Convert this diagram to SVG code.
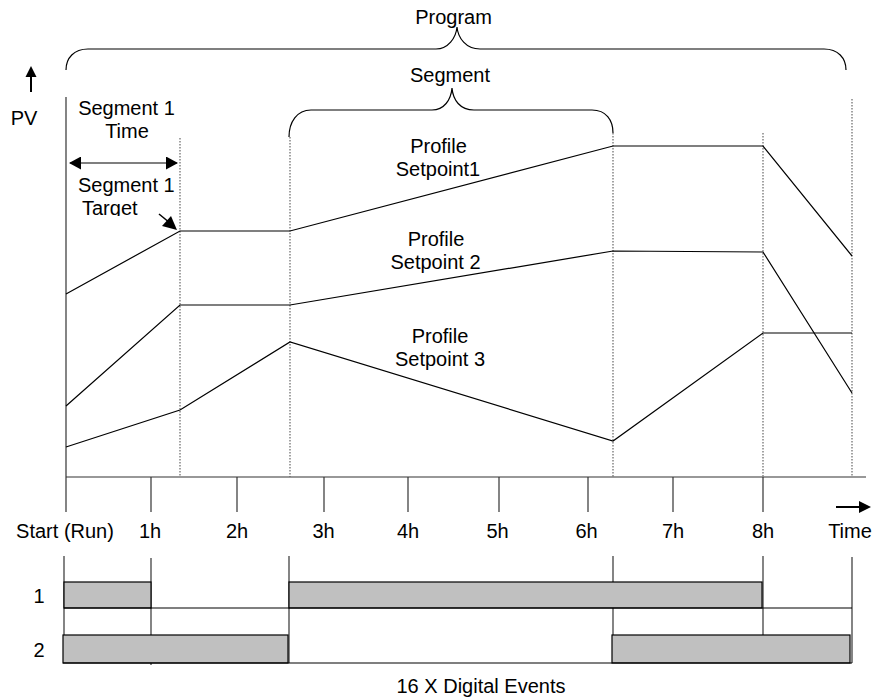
<svg xmlns="http://www.w3.org/2000/svg" width="887" height="698" viewBox="0 0 887 698">
<style>
text{font-family:"Liberation Sans",Arial,sans-serif;font-size:20px;fill:#000}
.c{text-anchor:middle}
.ln{stroke:#000;stroke-width:1.2;fill:none}
.ax{stroke:#333;stroke-width:1.2;fill:none}
.dot{stroke:#666;stroke-width:1.2;stroke-dasharray:1.5,1.5;fill:none}
.ev{fill:#c0c0c0;stroke:#000;stroke-width:1.2}
</style>
<defs>
<marker id="ah" viewBox="0 0 12 13" refX="11" refY="6.5" markerWidth="12" markerHeight="13" markerUnits="userSpaceOnUse" orient="auto-start-reverse"><path d="M0,0 L12,6.5 L0,13 z" fill="#000"/></marker>
<clipPath id="clipT"><rect x="0" y="0" width="887" height="216"/></clipPath>
</defs>
<g id="axes">
<line class="ax" x1="66" y1="97" x2="66" y2="512"/>
<line class="ax" x1="66" y1="477" x2="866" y2="477"/>
<g class="ax">
<line x1="151" y1="477" x2="151" y2="512"/>
<line x1="237" y1="477" x2="237" y2="512"/>
<line x1="324" y1="477" x2="324" y2="512"/>
<line x1="408" y1="477" x2="408" y2="512"/>
<line x1="499" y1="477" x2="499" y2="512"/>
<line x1="588" y1="477" x2="588" y2="512"/>
<line x1="673" y1="477" x2="673" y2="512"/>
<line x1="763" y1="477" x2="763" y2="512"/>
</g>
<line x1="31" y1="92" x2="31" y2="74" stroke="#000" stroke-width="2"/>
<polygon points="31,66 25.5,77 36.5,77" fill="#000"/>
<text x="24" y="125" class="c">PV</text>
<line x1="836" y1="507" x2="860" y2="507" stroke="#000" stroke-width="2"/>
<polygon points="871,507 859,501 859,513" fill="#000"/>
</g>
<g id="dividers">
<line class="dot" x1="180" y1="138" x2="180" y2="477"/>
<line class="dot" x1="290" y1="137" x2="290" y2="477"/>
<line class="dot" x1="613" y1="133" x2="613" y2="477"/>
<line class="dot" x1="763" y1="133" x2="763" y2="477"/>
<line class="dot" x1="852" y1="99" x2="852" y2="477"/>
</g>
<g id="program">
<path class="ln" d="M66,70 C66,58 74,49 88,49 L436,49 C448,49 456,38 457,27 C458,38 466,49 480,49 L824,49 C838,49 846,58 846,70"/>
<text x="453.5" y="24" class="c">Program</text>
</g>
<g id="segment">
<path class="ln" d="M289,137 C289,122 297,110 311,110 L432,110 C444,110 451,100 452,88 C453,100 460,110 474,110 L592,110 C606,110 613,120 613,133"/>
<text x="450" y="82" class="c">Segment</text>
</g>
<g id="seg1time">
<text x="126.5" y="115" class="c">Segment 1</text>
<text x="127" y="138" class="c">Time</text>
<line class="ln" x1="70" y1="163" x2="177" y2="163" stroke-width="2" marker-start="url(#ah)" marker-end="url(#ah)"/>
</g>
<g id="seg1target">
<text x="78" y="192">Segment 1</text>
<text x="82" y="215" clip-path="url(#clipT)">Target</text>
<line x1="159" y1="214" x2="170" y2="223" stroke="#000" stroke-width="1.5"/>
<polygon points="177,230 162,226 171,216" fill="#000"/>
</g>
<g id="sp1">
<polyline class="ln" points="66,294 180,231 290,231 613,146 763,146 852,256"/>
<text x="438.5" y="153" class="c">Profile</text>
<text x="438" y="176" class="c">Setpoint1</text>
</g>
<g id="sp2">
<polyline class="ln" points="66,406 180,305 290,305 613,251 763,252 852,393"/>
<text x="436" y="246" class="c">Profile</text>
<text x="435.5" y="269" class="c">Setpoint 2</text>
</g>
<g id="sp3">
<polyline class="ln" points="66,447 180,410 290,342 613,441 763,333 852,333"/>
<text x="440" y="343" class="c">Profile</text>
<text x="440" y="366" class="c">Setpoint 3</text>
</g>
<g id="timelabels">
<text x="65" y="538" class="c">Start (Run)</text>
<text x="150" y="538" class="c">1h</text>
<text x="237" y="538" class="c">2h</text>
<text x="323.5" y="538" class="c">3h</text>
<text x="408" y="538" class="c">4h</text>
<text x="497.5" y="538" class="c">5h</text>
<text x="586.5" y="538" class="c">6h</text>
<text x="673" y="538" class="c">7h</text>
<text x="763" y="538" class="c">8h</text>
<text x="850" y="538" class="c">Time</text>
</g>
<g id="events">
<g class="ax">
<line x1="64" y1="556" x2="64" y2="663"/>
<line x1="151" y1="558" x2="151" y2="665"/>
<line x1="289" y1="556" x2="289" y2="663"/>
<line x1="613" y1="556" x2="613" y2="663"/>
<line x1="763" y1="556" x2="763" y2="663"/>
<line x1="852" y1="557" x2="852" y2="663"/>
</g>
<rect class="ev" x="64" y="582" width="87" height="26"/>
<rect class="ev" x="289" y="582" width="473" height="26"/>
<line class="ln" x1="64" y1="608" x2="852" y2="608"/>
<rect class="ev" x="63" y="635" width="225" height="28"/>
<rect class="ev" x="612" y="635" width="238" height="28"/>
<line class="ln" x1="63" y1="663" x2="852" y2="663"/>
<text x="39" y="603" class="c">1</text>
<text x="39" y="657" class="c">2</text>
<text x="481" y="693" class="c">16 X Digital Events</text>
</g>
</svg>
